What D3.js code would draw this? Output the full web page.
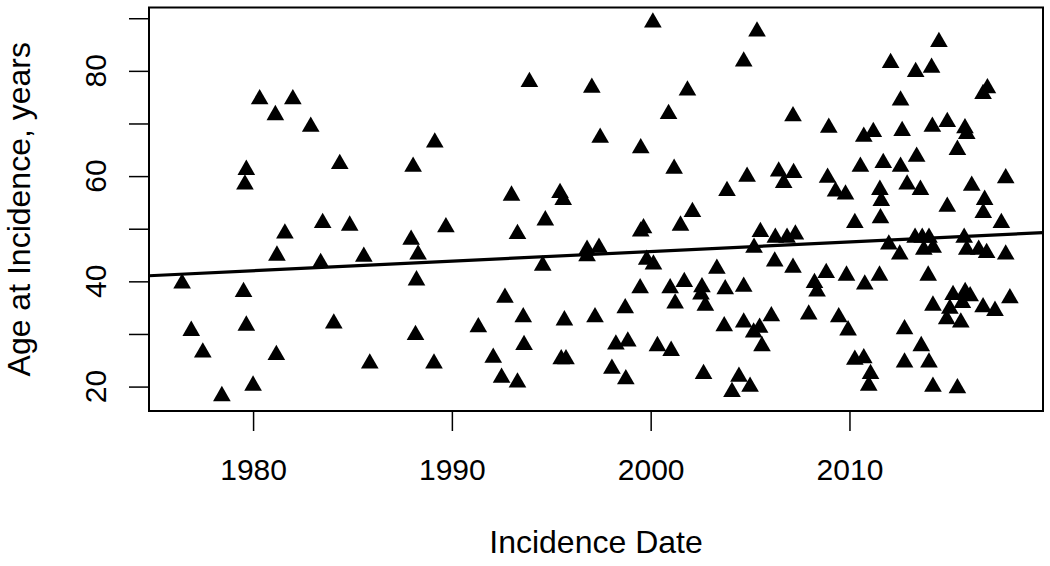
<!DOCTYPE html>
<html>
<head>
<meta charset="utf-8">
<script src="https://cdn.jsdelivr.net/npm/d3@7"></script>
<style>
  body { margin: 0; background: #fff; }
  svg { display: block; font-family: "Liberation Sans", Arial, sans-serif; }
</style>
</head>
<body>
<div id="chart"></div>
<script>
// incidence date (decimal years) and age at incidence
const years = [
  1980.33, 1982.0, 1981.12, 1982.9, 1989.14, 1979.66, 1979.59, 1984.36, 1988.05,
  1976.43, 1976.89, 1977.47, 1978.43, 1979.52, 1979.66, 1980.0, 1981.2, 1981.6, 1981.17,
  1983.5, 1984.86, 1983.4, 1984.06, 1985.57, 1985.87, 1987.95, 1988.3, 1988.22, 1988.17,
  1989.1, 1989.7,
  2000.11, 2005.35, 2004.68, 1993.9, 1997.04, 2001.85, 2000.9, 1997.46, 1999.5, 2001.18,
  2004.85, 2003.84, 1993.0, 1995.44, 1995.6, 2002.1,
  1994.7, 1993.3, 2001.5, 1999.64, 1999.5, 1996.8, 1996.8, 1997.4, 1994.57, 1999.8,
  2000.14, 2003.33, 1992.67, 1999.47, 2001.69, 2000.98, 2002.58, 2002.53, 2002.75, 2001.23,
  2003.75, 2004.68, 1998.72, 1993.59, 1995.66, 1997.2, 1991.33, 1993.63, 1992.08, 1995.5,
  1995.74, 1998.25, 1998.85, 2000.34, 2001.03, 1992.5, 1993.3, 1998.05, 1998.75, 2002.66,
  2004.44, 2005.0, 2004.09, 2003.7, 2004.68,
  2014.5, 2012.07, 2013.33, 2014.13, 2016.94, 2016.72, 2012.57, 2007.16, 2008.96, 2010.72,
  2011.2, 2012.65, 2014.17, 2014.92, 2015.81, 2015.9, 2015.43, 2013.38, 2010.55, 2011.7,
  2012.57, 2017.86, 2006.44, 2007.19, 2006.69, 2008.9, 2009.3, 2009.8, 2011.53, 2011.6,
  2012.9, 2013.57, 2016.15, 2014.92, 2016.8,
  2011.56, 2016.73, 2017.64, 2010.27, 2005.52, 2006.27, 2006.86, 2007.28, 2005.2, 2006.24,
  2007.16, 2011.98, 2012.53, 2013.3, 2013.66, 2014.0, 2013.74, 2014.21, 2015.77, 2015.9,
  2016.5, 2016.9, 2017.86, 2008.83, 2008.24, 2008.37, 2009.85, 2010.77, 2011.51, 2013.96,
  2014.2, 2015.21, 2015.82, 2016.07, 2015.68, 2015.05, 2014.89, 2015.6, 2016.72, 2017.32,
  2018.07, 2006.07, 2005.48, 2005.18, 2005.6, 2007.95, 2009.46, 2009.93, 2012.77, 2013.61,
  2010.27, 2010.72, 2011.06, 2010.97, 2012.77, 2014.0, 2014.2, 2015.43
];
const ages = [
  74.6, 74.6, 71.6, 69.4, 66.4, 61.2, 58.4, 62.3, 61.8,
  39.6, 30.6, 26.5, 18.2, 38.0, 31.6, 20.2, 44.9, 49.1, 26.0,
  51.1, 50.6, 43.5, 32.0, 44.7, 24.4, 47.9, 45.1, 40.2, 29.8,
  24.4, 50.3,
  89.2, 87.5, 81.8, 77.9, 76.8, 76.3, 71.8, 67.3, 65.3, 61.4,
  59.9, 57.2, 56.3, 56.8, 55.5, 53.2,
  51.6, 49.0, 50.6, 50.1, 49.5, 46.0, 44.8, 46.4, 43.0, 44.1,
  43.2, 42.4, 36.9, 38.7, 39.9, 38.7, 38.9, 37.5, 35.4, 35.8,
  38.5, 39.0, 34.9, 33.2, 32.6, 33.2, 31.3, 27.9, 25.5, 25.2,
  25.2, 28.0, 28.6, 27.7, 26.8, 21.7, 20.8, 23.4, 21.4, 22.4,
  21.9, 20.0, 19.0, 31.5, 32.2,
  85.5, 81.5, 79.8, 80.6, 76.7, 75.6, 74.4, 71.4, 69.2, 67.5,
  68.4, 68.6, 69.4, 70.3, 69.1, 68.0, 65.0, 63.7, 61.8, 62.5,
  61.8, 59.6, 60.9, 60.6, 58.7, 59.7, 57.1, 56.5, 57.4, 55.3,
  58.4, 57.4, 58.2, 54.2, 55.5,
  52.0, 53.0, 51.1, 51.1, 49.4, 48.3, 48.3, 48.9, 46.4, 43.8,
  42.6, 47.0, 45.1, 48.3, 48.3, 48.3, 46.0, 46.4, 48.3, 46.0,
  46.0, 45.4, 45.1, 41.6, 39.7, 38.1, 41.1, 39.4, 41.1, 41.1,
  35.4, 37.4, 38.0, 37.2, 35.9, 34.8, 32.8, 32.2, 35.1, 34.4,
  36.8, 33.4, 31.2, 30.3, 27.7, 33.7, 33.2, 30.7, 30.9, 27.7,
  25.1, 25.4, 22.4, 20.2, 24.6, 24.6, 20.0, 19.7
];

// fitted line (age = fitAge2000 + fitSlope * (year - 2000))
const fitSlope = 0.182;
const fitAge2000 = 45.66;

const xTicks = [1980, 1990, 2000, 2010];
const yTicks = [20, 30, 40, 50, 60, 70, 80, 90];
const yLabels = [20, 40, 60, 80];

const width = 1050;
const height = 566;
const margin = {top: 7.5, right: 7, bottom: 155, left: 149};

const points = years.map((y, i) => ({year: y, age: ages[i]}));

// R style 4% padding round the data range
function padded(ext) {
  const d = (ext[1] - ext[0]) * 0.04;
  return [ext[0] - d, ext[1] + d];
}

const x = d3.scaleLinear()
    .domain(padded(d3.extent(years)))
    .range([margin.left, width - margin.right]);
const y = d3.scaleLinear()
    .domain(padded(d3.extent(ages)))
    .range([height - margin.bottom, margin.top]);

const svg = d3.select("#chart").append("svg")
    .attr("width", width)
    .attr("height", height);

// points
const tri = d3.symbol().type(d3.symbolTriangle).size(135);
svg.append("g")
    .selectAll("path")
    .data(points)
    .join("path")
    .attr("d", tri)
    .attr("transform", d => `translate(${x(d.year)},${y(d.age)})`)
    .attr("fill", "black");

// regression line across the plot region
const xd = x.domain();
svg.append("line")
    .attr("x1", x(xd[0]))
    .attr("x2", x(xd[1]))
    .attr("y1", y(fitAge2000 + fitSlope * (xd[0] - 2000)))
    .attr("y2", y(fitAge2000 + fitSlope * (xd[1] - 2000)))
    .attr("stroke", "black")
    .attr("stroke-width", 3.2);

// box
svg.append("rect")
    .attr("x", margin.left)
    .attr("y", margin.top)
    .attr("width", width - margin.left - margin.right)
    .attr("height", height - margin.top - margin.bottom)
    .attr("fill", "none")
    .attr("stroke", "black")
    .attr("stroke-width", 2);

// x axis
const xAxis = svg.append("g")
    .attr("transform", `translate(0,${height - margin.bottom})`)
    .call(d3.axisBottom(x).tickValues(xTicks).tickSize(20).tickPadding(28).tickFormat(d3.format("d")));
xAxis.select(".domain").remove();
xAxis.selectAll("line").attr("stroke-width", 1.5);
xAxis.selectAll("text")
    .attr("font-size", 30)
    .attr("font-family", "Liberation Sans, Arial, sans-serif")
    .attr("fill", "black");

// y axis
const yAxis = svg.append("g")
    .attr("transform", `translate(${margin.left},0)`)
    .call(d3.axisLeft(y).tickValues(yTicks).tickSize(20).tickFormat(""));
yAxis.select(".domain").remove();
yAxis.selectAll("line").attr("stroke-width", 1.5);

svg.append("g")
    .selectAll("text")
    .data(yLabels)
    .join("text")
    .attr("transform", d => `translate(106,${y(d)}) rotate(-90)`)
    .attr("text-anchor", "middle")
    .attr("font-size", 30)
    .text(d => d);

// axis titles
svg.append("text")
    .attr("x", (margin.left + width - margin.right) / 2)
    .attr("y", 553)
    .attr("text-anchor", "middle")
    .attr("font-size", 32)
    .text("Incidence Date");

svg.append("text")
    .attr("transform", `translate(30,${(margin.top + height - margin.bottom) / 2}) rotate(-90)`)
    .attr("text-anchor", "middle")
    .attr("font-size", 32)
    .text("Age at Incidence, years");
</script>
</body>
</html>
